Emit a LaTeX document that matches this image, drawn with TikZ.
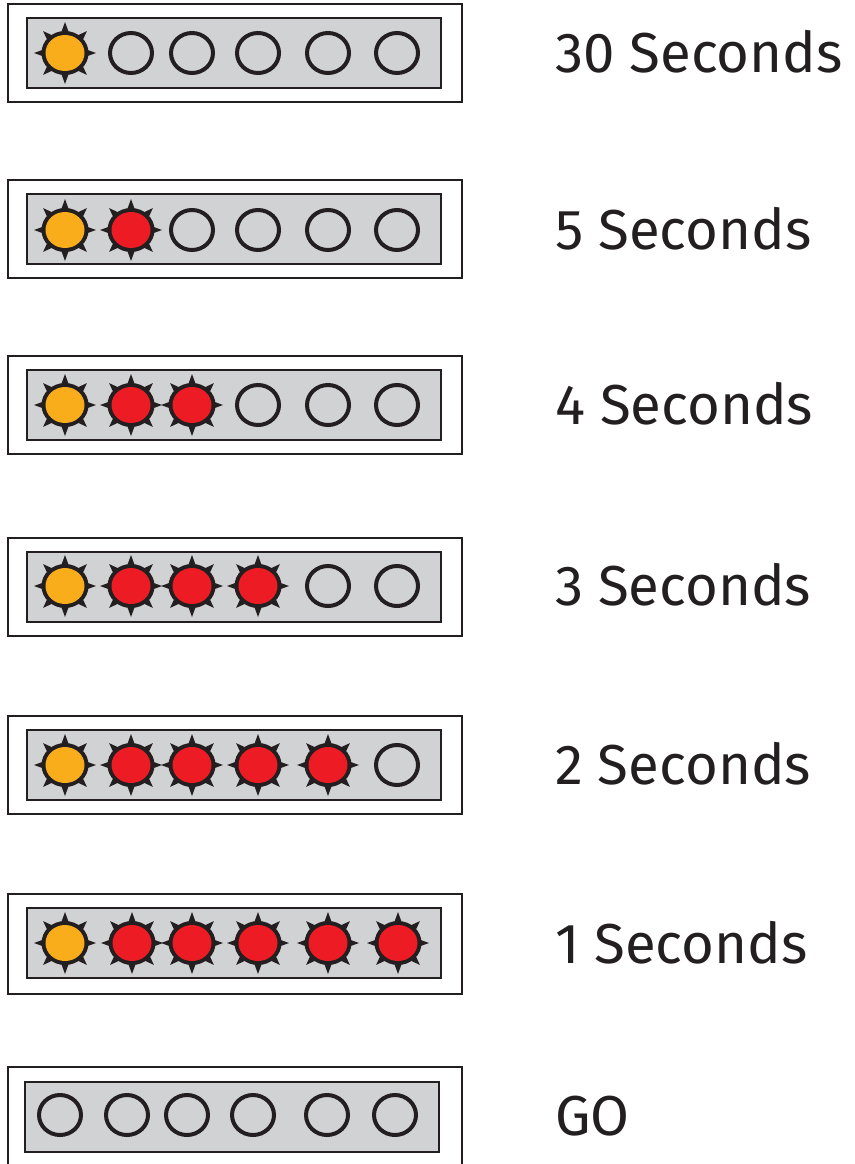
\documentclass[tikz,border=0pt]{standalone}
\usepackage{fontspec}
\setmainfont{Fira Sans}
\definecolor{dark}{HTML}{231F20}
\definecolor{panel}{HTML}{D1D2D4}
\definecolor{amber}{HTML}{F9AD1B}
\definecolor{lampred}{HTML}{ED1C24}
\tikzset{
  outerbox/.style={draw=dark, line width=2.2pt, fill=white},
  innerbox/.style={draw=dark, line width=2.6pt, fill=panel},
  label/.style={anchor=base west, inner sep=0pt, text=dark, font=\fontsize{56.3}{58}\selectfont},
}
\newcommand\lamp[3]{%
  \begin{scope}[shift={(#1,#2)}]
    \fill[dark] (0,0) ellipse[x radius=23.5pt, y radius=22pt];
    \foreach \a in {0,45,...,315}
      \fill[dark] (\a-12:20pt) -- (\a:31pt) -- (\a+12:20pt) -- cycle;
    \fill[#3] (0,0) ellipse[x radius=19.5pt, y radius=18pt];
  \end{scope}}
\newcommand\offlamp[2]{%
  \draw[dark, line width=4pt] (#1,#2) ellipse[x radius=21pt, y radius=20pt];}
\begin{document}
\begin{tikzpicture}[x=1pt, y=-1pt]
\useasboundingbox (0,0) rectangle (854,1164);
\clip (0,0) rectangle (854,1164);
% row 1
\draw[outerbox] (8,4) rectangle (462,102);
\draw[innerbox] (27,18) rectangle (441,88);
\lamp{65}{53}{amber}
\offlamp{131}{53}\offlamp{192}{53}\offlamp{258}{53}\offlamp{328}{53}\offlamp{397}{53}
\node[label] (t1) at (555,72) {30 Seconds};
% row 2
\draw[outerbox] (8,180) rectangle (462,278);
\draw[innerbox] (27,194) rectangle (441,264);
\lamp{65}{230}{amber}\lamp{131}{230}{lampred}
\offlamp{192}{230}\offlamp{258}{230}\offlamp{328}{230}\offlamp{397}{230}
\node[label] (t2) at (555,249) {5 Seconds};
% row 3
\draw[outerbox] (8,356) rectangle (462,454);
\draw[innerbox] (27,370) rectangle (441,440);
\lamp{65}{405}{amber}\lamp{131}{405}{lampred}\lamp{192}{405}{lampred}
\offlamp{258}{405}\offlamp{328}{405}\offlamp{397}{405}
\node[label] (t3) at (555,424) {4 Seconds};
% row 4
\draw[outerbox] (8,538) rectangle (462,636);
\draw[innerbox] (27,552) rectangle (441,622);
\lamp{65}{586}{amber}\lamp{131}{586}{lampred}\lamp{192}{586}{lampred}\lamp{258}{586}{lampred}
\offlamp{328}{586}\offlamp{397}{586}
\node[label] (t4) at (555,605) {3 Seconds};
% row 5
\draw[outerbox] (8,716) rectangle (462,814);
\draw[innerbox] (27,730) rectangle (441,800);
\lamp{65}{765}{amber}\lamp{131}{765}{lampred}\lamp{192}{765}{lampred}\lamp{258}{765}{lampred}\lamp{328}{765}{lampred}
\offlamp{397}{765}
\node[label] (t5) at (555,784) {2 Seconds};
% row 6
\draw[outerbox] (8,894) rectangle (462,994);
\draw[innerbox] (27,908) rectangle (441,978);
\lamp{65}{943}{amber}\lamp{132}{943}{lampred}\lamp{192}{943}{lampred}\lamp{258}{943}{lampred}\lamp{328}{943}{lampred}\lamp{398}{943}{lampred}
\node[label] (t6) at (555,963) {1 Seconds};
% row 7
\draw[outerbox] (8,1067) rectangle (462,1180);
\draw[innerbox] (25,1082) rectangle (439,1152);
\offlamp{60}{1115}\offlamp{127}{1115}\offlamp{187}{1115}\offlamp{253}{1115}\offlamp{327}{1115}\offlamp{395}{1115}
\node[label] (t7) at (555,1135) {GO};
\end{tikzpicture}
\end{document}
